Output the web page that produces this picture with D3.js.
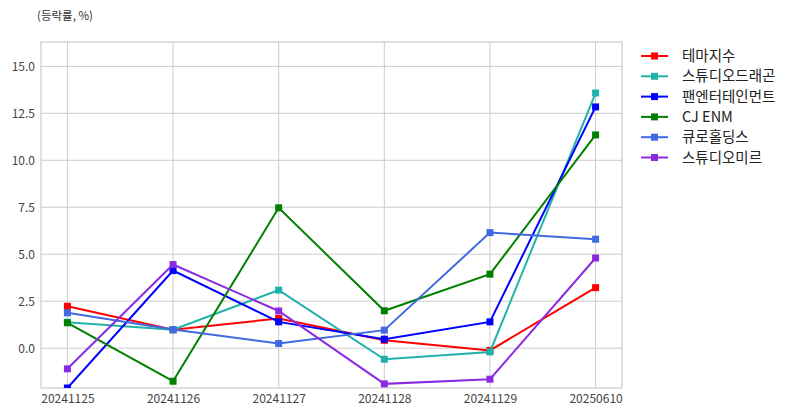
<!DOCTYPE html>
<html><head><meta charset="utf-8">
<script src="https://cdn.jsdelivr.net/npm/d3@7"></script>
<style>body{margin:0;background:#fff;} text{font-family:"Noto Sans CJK KR","Noto Sans",sans-serif;}</style>
</head><body>
<svg id="c" width="792" height="416"></svg>
<script>
const categories = ["20241125","20241126","20241127","20241128","20241129","20250610"];
const seriesNames = ["테마지수","스튜디오드래곤","팬엔터테인먼트","CJ ENM","큐로홀딩스","스튜디오미르"];
const s_theme   = [2.23, 0.98, 1.58, 0.42, -0.12, 3.22];
const s_dragon  = [1.38, 0.98, 3.09, -0.59, -0.20, 13.58];
const s_pan     = [-2.12, 4.13, 1.40, 0.48, 1.40, 12.84];
const s_cj      = [1.35, -1.76, 7.47, 1.99, 3.94, 11.35];
const s_curo    = [1.88, 0.99, 0.25, 0.96, 6.15, 5.80];
const s_mir     = [-1.10, 4.45, 1.98, -1.90, -1.65, 4.80];
const seriesValues = [s_theme, s_dragon, s_pan, s_cj, s_curo, s_mir];
const colors = ["#ff0000","#20b2aa","#0000ff","#008000","#4169e1","#8a2be2"];
const yTicks = [0, 2.5, 5, 7.5, 10, 12.5, 15];
const yLabel = "(등락률, %)";

const svg = d3.select("#c");
const L = 41, R = 622, T = 42, B = 388;
const allV = seriesValues.flat();
const yMin = d3.min(allV), yMax = d3.max(allV) * 1.2;
const x = d3.scaleLinear().domain([-0.25, categories.length - 0.75]).range([L, R]);
const y = d3.scaleLinear().domain([yMin, yMax]).range([B, T]);

svg.append("defs").append("clipPath").attr("id","clip")
  .append("rect").attr("x",L).attr("y",T).attr("width",R-L).attr("height",B-T);

// grid
const g = svg.append("g");
g.selectAll(".hg").data(yTicks).enter().append("line")
  .attr("x1",L).attr("x2",R).attr("y1",d=>y(d)).attr("y2",d=>y(d))
  .attr("stroke","#cccccc").attr("stroke-width",1);
g.selectAll(".vg").data(categories).enter().append("line")
  .attr("x1",(d,i)=>x(i)).attr("x2",(d,i)=>x(i)).attr("y1",T).attr("y2",B)
  .attr("stroke","#cccccc").attr("stroke-width",1);
svg.append("rect").attr("x",L).attr("y",T).attr("width",R-L).attr("height",B-T)
  .attr("fill","none").attr("stroke","#cccccc").attr("stroke-width",1.2);

// axes
const yAxis = d3.axisLeft(y).tickValues(yTicks).tickFormat(d3.format(".1f")).tickSize(0).tickPadding(6);
const ya = svg.append("g").attr("transform",`translate(${L},0)`).call(yAxis);
ya.select(".domain").remove();
ya.selectAll("text").attr("fill","#444").style("font-size","12px");

const xAxis = d3.axisBottom(x).tickValues(d3.range(categories.length)).tickFormat(i=>categories[i]).tickSize(0).tickPadding(6);
const xa = svg.append("g").attr("transform",`translate(0,${B})`).call(xAxis);
xa.select(".domain").remove();
xa.selectAll("text").attr("fill","#444").style("font-size","12px");

svg.append("text").attr("x",37).attr("y",20).text(yLabel).attr("fill","#333").style("font-size","11.5px");

// lines
const plot = svg.append("g").attr("clip-path","url(#clip)");
const line = d3.line().x((d,i)=>x(i)).y(d=>y(d));
seriesValues.forEach((vals, si) => {
  plot.append("path").datum(vals).attr("d", line).attr("fill","none")
    .attr("stroke", colors[si]).attr("stroke-width", 2);
  plot.selectAll(null).data(vals).enter().append("rect")
    .attr("x",(d,i)=>x(i)-3.5).attr("y",d=>y(d)-3.5).attr("width",7).attr("height",7)
    .attr("fill", colors[si]);
});

// legend
const lg = svg.append("g");
seriesNames.forEach((n, i) => {
  const yy = 56 + i * 20.3;
  lg.append("line").attr("x1",641).attr("x2",668).attr("y1",yy).attr("y2",yy)
    .attr("stroke",colors[i]).attr("stroke-width",2);
  lg.append("rect").attr("x",654.5-3.5).attr("y",yy-3.5).attr("width",7).attr("height",7).attr("fill",colors[i]);
  lg.append("text").attr("x",682).attr("y",yy+5).text(n).attr("fill","#222").style("font-size","14.5px");
});
</script>
</body></html>
